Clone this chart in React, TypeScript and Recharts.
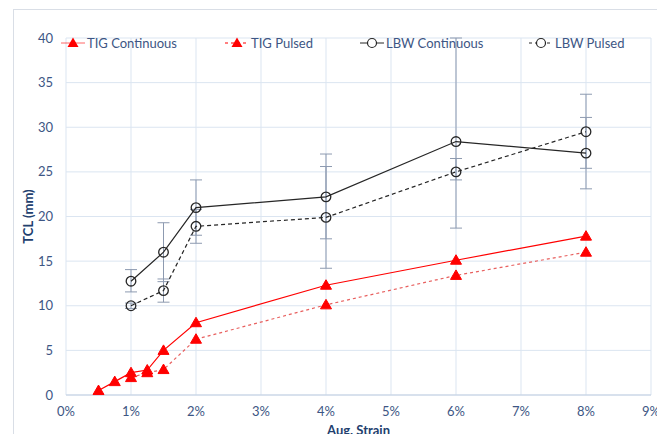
import {
  CartesianGrid,
  ComposedChart,
  ErrorBar,
  Legend,
  Scatter,
  XAxis,
  YAxis,
} from "recharts";

// strain in %, TCL in mm
const strainTigCont = [0.5, 0.75, 1, 1.25, 1.5, 2, 4, 6, 8];
const tclTigCont = [0.5, 1.5, 2.5, 2.8, 5.0, 8.1, 12.3, 15.1, 17.8];

const strainTigPulsed = [1, 1.25, 1.5, 2, 4, 6, 8];
const tclTigPulsed = [1.95, 2.5, 2.85, 6.25, 10.1, 13.4, 16.0];

const strainLbw = [1, 1.5, 2, 4, 6, 8];
const tclLbwCont = [12.75, 16.0, 21.0, 22.2, 28.4, 27.1];
const errLbwCont = [
  [1.2, 1.3],
  [3.3, 3.3],
  [3.1, 3.1],
  [4.7, 4.8],
  [9.7, 11.6],
  [4.0, 4.0],
];
const tclLbwPulsed = [10.0, 11.7, 18.9, 19.9, 25.0, 29.5];
const errLbwPulsed = [
  [0.3, 0.3],
  [1.3, 1.3],
  [1.9, 1.9],
  [5.7, 5.7],
  [0.9, 1.5],
  [4.1, 4.2],
];

const xTicks = [0, 1, 2, 3, 4, 5, 6, 7, 8, 9];
const yTicks = [0, 5, 10, 15, 20, 25, 30, 35, 40];

const seriesNames = ["TIG Continuous", "TIG Pulsed", "LBW Continuous", "LBW Pulsed"];

const toPoints = (xs: number[], ys: number[], errs?: number[][]) =>
  xs.map((x, i) => ({ x, y: ys[i], err: errs ? errs[i] : undefined }));

const tigCont = toPoints(strainTigCont, tclTigCont);
const tigPulsed = toPoints(strainTigPulsed, tclTigPulsed);
const lbwCont = toPoints(strainLbw, tclLbwCont, errLbwCont);
const lbwPulsed = toPoints(strainLbw, tclLbwPulsed, errLbwPulsed);

const RED = "#ff0000";
const DARK = "#262626";
const TEXT = "#3d5684";
const TITLE = "#22406e";
const GRID = "#dbe5f1";
const ERR = "#8d9ab0";
const FONT = "Lato, 'Open Sans', sans-serif";

function Triangle(props: any) {
  const { cx, cy } = props;
  if (cx == null || cy == null) return null;
  return (
    <polygon
      points={`${cx},${cy - 5.5} ${cx - 5.5},${cy + 4} ${cx + 5.5},${cy + 4}`}
      fill={RED}
      stroke={RED}
      strokeWidth={1}
    />
  );
}

function Ring(props: any) {
  const { cx, cy } = props;
  if (cx == null || cy == null) return null;
  return <circle cx={cx} cy={cy} r={4.8} fill="none" stroke={DARK} strokeWidth={1.3} />;
}

function LegendIcon({ kind, dashed }: { kind: "tri" | "ring"; dashed: boolean }) {
  const color = kind === "tri" ? RED : DARK;
  return (
    <svg width={24} height={14} style={{ display: "block" }}>
      <line
        x1={0}
        x2={24}
        y1={7}
        y2={7}
        stroke={color}
        strokeWidth={1}
        strokeOpacity={kind === "tri" && !dashed ? 0.6 : 1}
        strokeDasharray={dashed ? "3 3" : undefined}
      />
      {kind === "tri" ? (
        <polygon points="12,1.5 6.5,11 17.5,11" fill={RED} />
      ) : (
        <circle cx={12} cy={7} r={4.5} fill="#fff" stroke={DARK} strokeWidth={1.2} />
      )}
    </svg>
  );
}

function ChartLegend() {
  const widths = [164, 135, 169, 120];
  return (
    <div style={{ display: "flex", paddingLeft: 61, fontFamily: FONT, fontSize: 13, color: TEXT }}>
      {seriesNames.map((name, i) => (
        <div key={name} style={{ width: widths[i], display: "flex", alignItems: "center", gap: 2 }}>
          <LegendIcon kind={i < 2 ? "tri" : "ring"} dashed={i % 2 === 1} />
          <span>{name}</span>
        </div>
      ))}
    </div>
  );
}

export default function App() {
  const tick = { fontSize: 13, fill: TEXT, fontFamily: FONT };
  return (
    <div style={{ position: "absolute", left: 0, top: 0, width: 657, height: 434, overflow: "hidden", background: "#fff" }}>
      <div
        style={{
          position: "absolute",
          left: 13,
          top: 9,
          width: 700,
          height: 500,
          border: "1px solid #d9dee6",
        }}
      />
      <ComposedChart
        width={657}
        height={434}
        margin={{ top: 22, right: 6, bottom: 0, left: 0 }}
        style={{ position: "absolute", left: 0, top: 0 }}
      >
        <CartesianGrid stroke={GRID} strokeWidth={1} />
        <XAxis
          type="number"
          dataKey="x"
          domain={[0, 9]}
          ticks={xTicks}
          tickFormatter={(v: number) => `${v}%`}
          tick={tick}
          tickSize={0}
          tickMargin={12}
          height={39}
          axisLine={{ stroke: "#c3d0e2" }}
          interval={0}
          label={{
            content: ({ viewBox }: any) => (
              <text
                x={viewBox.x + viewBox.width / 2}
                y={viewBox.y + 40}
                textAnchor="middle"
                fontFamily={FONT}
                fontSize={13}
                fontWeight={700}
                fill={TITLE}
              >
                Aug. Strain
              </text>
            ),
          }}
        />
        <YAxis
          type="number"
          dataKey="y"
          domain={[0, 40]}
          ticks={yTicks}
          tick={tick}
          tickSize={0}
          tickMargin={13}
          width={66}
          axisLine={false}
          interval={0}
          label={{
            content: ({ viewBox }: any) => {
              const cx = viewBox.x + 28;
              const cy = viewBox.y + viewBox.height / 2;
              return (
                <text
                  x={cx}
                  y={cy}
                  transform={`rotate(-90 ${cx} ${cy})`}
                  textAnchor="middle"
                  dominantBaseline="central"
                  fontFamily={FONT}
                  fontSize={13}
                  fontWeight={700}
                  fill={TITLE}
                >
                  TCL (mm)
                </text>
              );
            },
          }}
        />
        <Legend
          verticalAlign="top"
          align="left"
          content={() => <ChartLegend />}
          wrapperStyle={{ top: 35, left: 0, width: 657 }}
        />
        <Scatter
          name="LBW Continuous"
          data={lbwCont}
          line={{ stroke: DARK, strokeWidth: 1.2 }}
          lineType="joint"
          shape={<Ring />}
          isAnimationActive={false}
        >
          <ErrorBar dataKey="err" direction="y" width={6} stroke={ERR} strokeWidth={1} isAnimationActive={false} />
        </Scatter>
        <Scatter
          name="LBW Pulsed"
          data={lbwPulsed}
          line={{ stroke: DARK, strokeWidth: 1.2, strokeDasharray: "4 3" }}
          lineType="joint"
          shape={<Ring />}
          isAnimationActive={false}
        >
          <ErrorBar dataKey="err" direction="y" width={6} stroke={ERR} strokeWidth={1} isAnimationActive={false} />
        </Scatter>
        <Scatter
          name="TIG Pulsed"
          data={tigPulsed}
          line={{ stroke: "#e8605f", strokeWidth: 1.2, strokeDasharray: "3 3" }}
          lineType="joint"
          shape={<Triangle />}
          isAnimationActive={false}
        />
        <Scatter
          name="TIG Continuous"
          data={tigCont}
          line={{ stroke: RED, strokeWidth: 1.2 }}
          lineType="joint"
          shape={<Triangle />}
          isAnimationActive={false}
        />
      </ComposedChart>
    </div>
  );
}
